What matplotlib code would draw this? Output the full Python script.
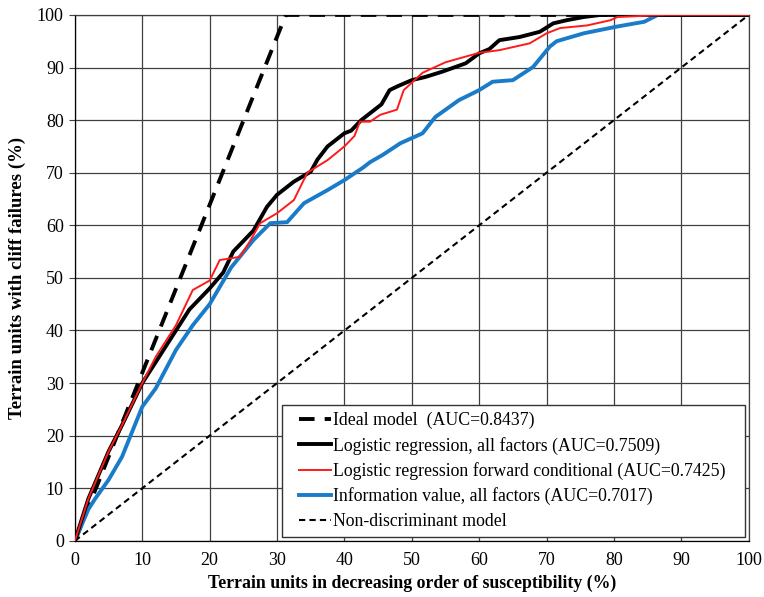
import matplotlib
matplotlib.use("Agg")
import matplotlib.pyplot as plt
from matplotlib.patches import Rectangle
import numpy as np

plt.rcParams['font.family'] = ['Liberation Serif', 'DejaVu Serif']

# Ideal model
ideal_x = [0, 31.3, 100]
ideal_y = [0, 100, 100]

# Logistic regression, all factors (black)
lr_x = [0, 1, 2, 3, 4, 5, 7, 10, 12, 15, 17, 20, 22, 23.5, 25, 26.5, 28.5, 30,
        32.5, 35, 36, 37.5, 40, 41, 42.5, 44, 45.5, 46.7, 48, 50, 52, 54.5, 58, 60,
        61.5, 63, 66, 69, 71, 73, 75.5, 78, 100]
lr_y = [0, 4, 8, 11, 14, 17, 22, 30, 34, 40, 44, 48, 51, 55, 57, 59, 63.5, 65.8,
        68.3, 70.2, 72.5, 75, 77.5, 78, 80, 81.5, 83, 85.7, 86.5, 87.6, 88.2, 89.2, 90.8, 92.7,
        93.5, 95.2, 95.8, 96.8, 98.4, 99, 99.6, 100, 100]

# Logistic regression forward conditional (red)
lf_x = [0, 1, 2, 3, 4, 5, 7, 10, 12, 15, 17.5, 20, 21.5, 24.5, 26, 27.5, 30, 32.5,
        34.5, 37.5, 40, 41.5, 42.3, 43.8, 45.3, 47.8, 48.8, 51.6, 55, 60, 63, 67.5,
        70, 72, 76, 79.5, 80.5, 87.5, 100]
lf_y = [0, 4, 8, 11, 14, 17, 22, 30, 35, 41, 47.7, 49.5, 53.4, 54, 57, 60.4, 62.3, 64.8,
        70, 72.4, 75, 77, 79.7, 79.7, 81, 82, 85.7, 89, 91, 92.8, 93.3, 94.6,
        96.5, 97.5, 98, 99, 99.6, 100, 100]

# Information value, all factors (blue)
iv_x = [0, 1, 2, 3, 5, 7, 10, 12, 15, 17.5, 20, 23.2, 26.5, 29, 31.5, 34, 37.5, 40,
        42.8, 43.8, 45.7, 48.3, 51.6, 53.5, 57, 60, 62, 65, 68, 70.5, 71.5, 75.5,
        80.5, 84.5, 86.5, 100]
iv_y = [0, 3, 6, 8, 11.6, 16, 25.5, 29, 36.3, 41, 45, 52, 57.2, 60.4, 60.6, 64.2, 66.7, 68.6,
        71, 72, 73.4, 75.6, 77.5, 80.6, 83.8, 85.7, 87.3, 87.6, 90.1, 94, 95, 96.5,
        97.8, 98.7, 100, 100]

# Non-discriminant model
nd_x = [0, 100]
nd_y = [0, 100]

fig = plt.figure(figsize=(7.64, 5.97), dpi=100)
ax = fig.add_axes([0.098, 0.094, 0.882, 0.881])

gc = '#404040'
ax.set_xlim(0, 100)
ax.set_ylim(0, 100)
ax.set_xticks(np.arange(0, 101, 10))
ax.set_yticks(np.arange(0, 101, 10))
ax.grid(True, color=gc, linewidth=0.9)
ax.set_axisbelow(True)
for s in ax.spines.values():
    s.set_color(gc)
    s.set_linewidth(0.9)
ax.spines['left'].set_color('black')
ax.spines['bottom'].set_color('black')
ax.tick_params(axis='both', labelsize=13, direction='out', length=4, color=gc, pad=4)
ax.tick_params(axis='x', length=0, pad=8)

ax.plot(ideal_x, ideal_y, color='black', lw=2.8, ls=(0, (4.0, 2.6)),
        label='Ideal model  (AUC=0.8437)', zorder=3)
ax.plot(lr_x, lr_y, color='black', lw=2.8, label='Logistic regression, all factors (AUC=0.7509)', zorder=4)
ax.plot(lf_x, lf_y, color='#ff1a1a', lw=1.4,
        label='Logistic regression forward conditional (AUC=0.7425)', zorder=5)
ax.plot(iv_x, iv_y, color='#1a7cc8', lw=2.8, label='Information value, all factors (AUC=0.7017)', zorder=3)
ax.plot(nd_x, nd_y, color='black', lw=1.5, ls=(0, (3, 2)), label='Non-discriminant model', zorder=3)

# legend box
bx0, bx1, by0, by1 = 0.307, 0.994, 0.0076, 0.2586
ax.add_patch(Rectangle((bx0, by0), bx1 - bx0, by1 - by0, transform=ax.transAxes,
                       facecolor='white', edgecolor='#333333', linewidth=1.0, zorder=6))
leg = ax.legend(loc='center', fontsize=12.8, frameon=False, handlelength=1.8,
                handletextpad=0.1, borderpad=0.2, labelspacing=0.42,
                bbox_to_anchor=((bx0 + bx1) / 2 - 0.002, (by0 + by1) / 2))
leg.set_zorder(7)

ax.set_xlabel('Terrain units in decreasing order of susceptibility (%)', fontsize=12.8,
              fontweight='bold', labelpad=4)
ax.set_ylabel('Terrain units with cliff failures (%)', fontsize=13.5, fontweight='bold', labelpad=8)

fig.savefig('out.png', dpi=100)
